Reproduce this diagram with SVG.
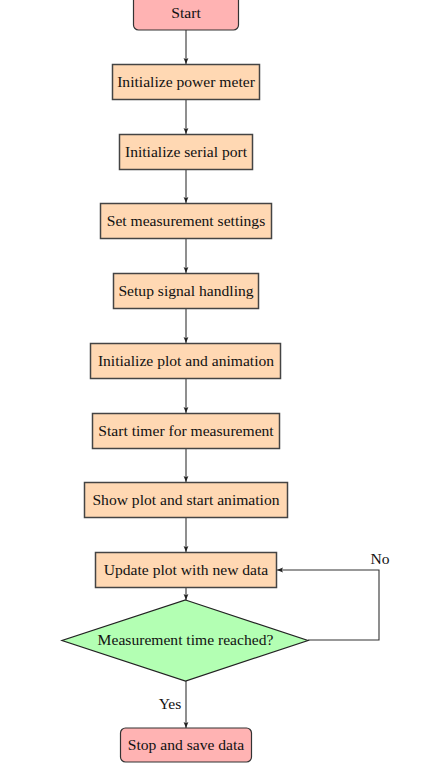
<svg xmlns="http://www.w3.org/2000/svg" width="422" height="773" viewBox="0 0 422 773">
<defs>
<marker id="ah" viewBox="0 0 6 6" refX="6" refY="3" markerWidth="6" markerHeight="6" orient="auto" markerUnits="userSpaceOnUse">
<path d="M0,0.6 L6,3 L0,5.4 L1.2,3 Z" fill="#222"/>
</marker>
</defs>
<style>
.t{font-family:"Liberation Serif","Times New Roman",serif;font-size:15.6px;fill:#111;text-anchor:middle;dominant-baseline:central}
.term{fill:#ffb3b3;stroke:#333;stroke-width:1.2}
.proc{fill:#ffd8b3;stroke:#444;stroke-width:1.5}
.dec{fill:#b3ffb3;stroke:#222;stroke-width:1.2}
.c{fill:none;stroke:#333;stroke-width:1.1;marker-end:url(#ah)}
</style>
<rect width="422" height="773" fill="#fff"/>
<g id="connectors">
<line class="c" x1="186" y1="30" x2="186" y2="64"/>
<line class="c" x1="186" y1="100" x2="186" y2="134"/>
<line class="c" x1="186" y1="170" x2="186" y2="203"/>
<line class="c" x1="186" y1="239" x2="186" y2="273"/>
<line class="c" x1="186" y1="309" x2="186" y2="343"/>
<line class="c" x1="186" y1="379" x2="186" y2="413"/>
<line class="c" x1="186" y1="449" x2="186" y2="482"/>
<line class="c" x1="186" y1="518" x2="186" y2="552"/>
<line class="c" x1="186" y1="588" x2="186" y2="600"/>
<line class="c" x1="186" y1="681" x2="186" y2="728"/>
<polyline class="c" points="308,640 379,640 379,570 277,570"/>
<text class="t" x="380" y="558">No</text>
<text class="t" x="170" y="703">Yes</text>
</g>
<g id="start"><rect class="term" x="133.5" y="-6" width="105" height="36" rx="5"/><text class="t" x="186" y="12">Start</text></g>
<g id="init_pm"><rect class="proc" x="112.5" y="64.5" width="147" height="35"/><text class="t" x="186" y="81">Initialize power meter</text></g>
<g id="init_serial"><rect class="proc" x="119.5" y="134.5" width="133" height="35"/><text class="t" x="186" y="151">Initialize serial port</text></g>
<g id="settings"><rect class="proc" x="100.5" y="203.5" width="171" height="35"/><text class="t" x="186" y="220">Set measurement settings</text></g>
<g id="signal"><rect class="proc" x="113.5" y="273.5" width="145" height="35"/><text class="t" x="186" y="290">Setup signal handling</text></g>
<g id="init_plot"><rect class="proc" x="90.5" y="343.5" width="190" height="35"/><text class="t" x="186" y="360">Initialize plot and animation</text></g>
<g id="timer"><rect class="proc" x="92.5" y="413.5" width="187" height="35"/><text class="t" x="186" y="430">Start timer for measurement</text></g>
<g id="show_plot"><rect class="proc" x="84.5" y="482.5" width="203" height="35"/><text class="t" x="186" y="499">Show plot and start animation</text></g>
<g id="update"><rect class="proc" x="95.5" y="552.5" width="181" height="35"/><text class="t" x="186" y="569">Update plot with new data</text></g>
<g id="decision"><polygon class="dec" points="185.5,600 308,640.5 185.5,681 62,640.5"/><text class="t" x="185.5" y="639">Measurement time reached?</text></g>
<g id="stop"><rect class="term" x="120.5" y="728" width="131" height="34" rx="5"/><text class="t" x="186" y="744">Stop and save data</text></g>
</svg>
